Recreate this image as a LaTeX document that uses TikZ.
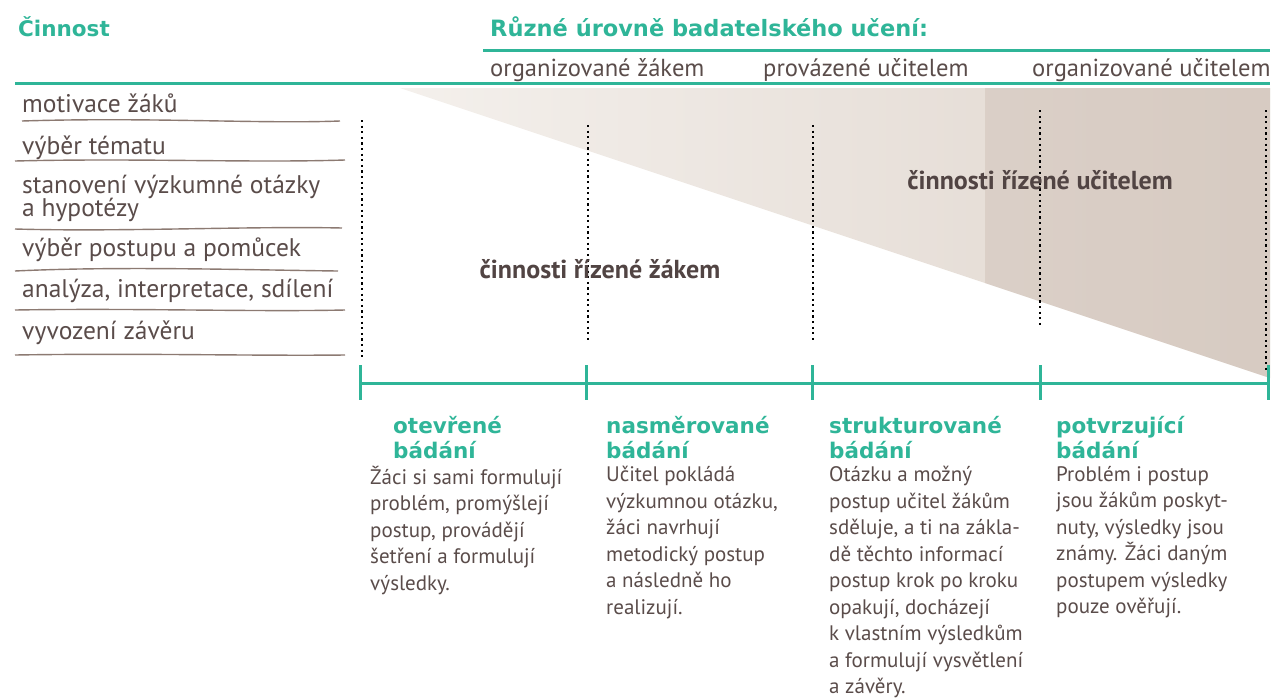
\documentclass[tikz,border=0pt]{standalone}
\usepackage{fontspec}
\setmainfont{PT Sans}
\newfontfamily\headfont{DejaVu Sans}
\usetikzlibrary{positioning}

\definecolor{zelena}{RGB}{47,181,152}
\definecolor{hneda}{RGB}{90,76,74}
\definecolor{linka}{RGB}{140,122,114}
\definecolor{stinA}{RGB}{244,240,236}
\definecolor{stinB}{RGB}{224,214,206}
\definecolor{stinC}{RGB}{205,190,180}

\tikzset{
  nadpis/.style={font=\headfont\bfseries\fontsize{21.5}{25}\selectfont, text=zelena, inner sep=0pt, align=left},
  uroven/.style={font=\fontsize{24.6}{26}\selectfont, text=hneda, inner sep=0pt, anchor=base west},
  cinnost/.style={font=\fontsize{25.5}{23}\selectfont, text=hneda, inner sep=0pt, align=left},
  popis/.style={font=\fontsize{21}{26.5}\selectfont, text=hneda, inner sep=0pt, align=left, anchor=north west},
  rizeni/.style={font=\bfseries\fontsize{26}{28}\selectfont, text=hneda!90!black},
  osa/.style={zelena, line width=3pt},
  tecky/.style={line width=2.4pt, dash pattern=on 2.2pt off 3.4pt},
  oddel/.style={linka, line width=1.4pt}
}

\begin{document}
\begin{tikzpicture}[x=1pt, y=-1pt]
\useasboundingbox (0,0) rectangle (1274,699);

% stinovane pole
\shade[left color=stinA, right color=stinB] (400,88) -- (1270,88) -- (1270,378) -- cycle;
\fill[stinC, opacity=0.45] (985,88) -- (1270,88) -- (1270,378) -- (985,283) -- cycle;

% hlavicka
\node[nadpis, anchor=base west] (cinnost) at (18,36) {Činnost};
\node[nadpis, anchor=base west, font=\headfont\bfseries\fontsize{22.5}{25}\selectfont] (urovne) at (490,36) {Různé úrovně badatelského učení:};
\draw[osa] (483,50) -- (1270,50);
\node[uroven] (org1) at (490,76) {organizované žákem};
\node[uroven] (prov) at (763,76) {provázené učitelem};
\node[uroven] (org2) at (1032,76) {organizované učitelem};
\draw[osa] (15,83) -- (1270,83);

% cinnosti vlevo
\node[cinnost, anchor=base west] (c1) at (22,112) {motivace žáků};
\node[cinnost, anchor=base west] (c2) at (22,154) {výběr tématu};
\node[cinnost, anchor=base west] (c3) at (22,193) {stanovení výzkumné otázky};
\node[cinnost, anchor=base west] (c3b) at (22,216) {a hypotézy};
\node[cinnost, anchor=base west] (c4) at (22,256) {výběr postupu a pomůcek};
\node[cinnost, anchor=base west] (c5) at (22,297) {analýza, interpretace, sdílení};
\node[cinnost, anchor=base west] (c6) at (22,339) {vyvození závěru};

\draw[oddel] (22,121) .. controls (150,117) and (260,124) .. (340,121);
\draw[oddel] (15,161) .. controls (140,158) and (250,163) .. (345,160);
\draw[oddel] (15,229) .. controls (120,232) and (250,226) .. (342,228);
\draw[oddel] (15,271) .. controls (120,266) and (250,270) .. (338,271);
\draw[oddel] (15,310) .. controls (140,308) and (250,312) .. (345,310);
\draw[oddel] (15,355) .. controls (140,353) and (250,356) .. (345,355);

% teckovane svisle cary
\coordinate (d1a) at (362,120);  \coordinate (d1b) at (362,357);
\coordinate (d2a) at (588,125);  \coordinate (d2b) at (588,340);
\coordinate (d3a) at (813,125);  \coordinate (d3b) at (813,340);
\coordinate (d4a) at (1040,110); \coordinate (d4b) at (1040,325);
\coordinate (d5a) at (1266,110); \coordinate (d5b) at (1266,372);
\foreach \i in {1,...,5}
  \draw[tecky] (d\i a) -- (d\i b);

\node[rizeni] (zak) at (600,269) {činnosti řízené žákem};
\node[rizeni] (ucitel) at (1040,180) {činnosti řízené učitelem};

% osa
\coordinate (t0) at (360,383);
\coordinate (t1) at (586,383);
\coordinate (t2) at (812,383);
\coordinate (t3) at (1040,383);
\coordinate (t4) at (1268,383);
\draw[osa] (t0) -- (t4);
\foreach \i in {0,...,4}
  \draw[osa] ([yshift=18pt]t\i) -- ([yshift=-17pt]t\i);

% typy badani
\node[nadpis, anchor=north west] (b1) at (393,416) {otevřené\\bádání};
\node[nadpis, anchor=north west] (b2) at (606,416) {nasměrované\\bádání};
\node[nadpis, anchor=north west] (b3) at (829,416) {strukturované\\bádání};
\node[nadpis, anchor=north west] (b4) at (1056,416) {potvrzující\\bádání};

\node[popis] (p1) at (370,466) {Žáci si sami formulují\\problém, promýšlejí\\postup, provádějí\\šetření a formulují\\výsledky.};
\node[popis] (p2) at (606,466) {Učitel pokládá\\výzkumnou otázku,\\žáci navrhují\\metodický postup\\a následně ho\\realizují.};
\node[popis] (p3) at (829,466) {Otázku a možný\\postup učitel žákům\\sděluje, a ti na zákla-\\dě těchto informací\\postup krok po kroku\\opakují, docházejí\\k vlastním výsledkům\\a formulují vysvětlení\\a závěry.};
\node[popis] (p4) at (1056,466) {Problém i postup\\jsou žákům poskyt-\\nuty, výsledky jsou\\známy. Žáci daným\\postupem výsledky\\pouze ověřují.};

\end{tikzpicture}
\end{document}
